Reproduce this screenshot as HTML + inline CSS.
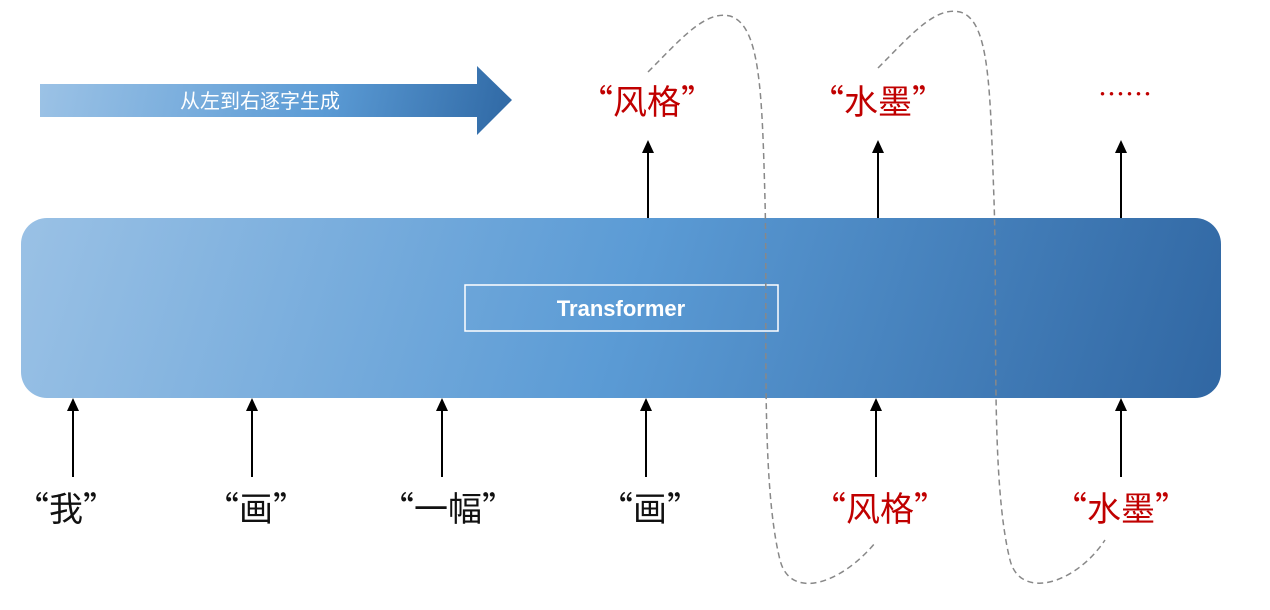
<!DOCTYPE html>
<html><head><meta charset="utf-8"><style>
html,body{margin:0;padding:0;background:#fff;}
svg{display:block;}
text{font-family:"Liberation Sans","Noto Sans CJK SC",sans-serif;}
.cjk{font-family:"Noto Sans CJK SC",sans-serif;}
</style></head><body>
<svg width="1270" height="610" viewBox="0 0 1270 610" xmlns="http://www.w3.org/2000/svg">
<defs>
<linearGradient id="g1" gradientUnits="userSpaceOnUse" x1="21" y1="120" x2="1221" y2="500">
<stop offset="0" stop-color="#9dc3e6"/><stop offset="0.5" stop-color="#5b9bd5"/><stop offset="1" stop-color="#2e64a0"/>
</linearGradient>
<linearGradient id="g2" gradientUnits="userSpaceOnUse" x1="40" y1="50" x2="512" y2="150">
<stop offset="0" stop-color="#9dc3e6"/><stop offset="0.6" stop-color="#5b9bd5"/><stop offset="1" stop-color="#2e67a3"/>
</linearGradient>
</defs>
<path d="M40,84 L477,84 L477,66 L512,100 L477,135 L477,117 L40,117 Z" fill="url(#g2)"/>
<text x="260" y="108" font-size="20" fill="#fff" text-anchor="middle">从左到右逐字生成</text>
<rect x="21" y="218" width="1200" height="180" rx="26" fill="url(#g1)"/>
<rect x="465" y="285" width="313" height="46" fill="none" stroke="#fff" stroke-width="1.5"/>
<text x="621" y="316" font-size="22" font-weight="bold" fill="#fff" text-anchor="middle">Transformer</text>
<g stroke="#000" stroke-width="2">
<line x1="648" y1="218" x2="648" y2="150"/>
<line x1="878" y1="218" x2="878" y2="150"/>
<line x1="1121" y1="218" x2="1121" y2="150"/>
<line x1="73" y1="477" x2="73" y2="408"/>
<line x1="252" y1="477" x2="252" y2="408"/>
<line x1="442" y1="477" x2="442" y2="408"/>
<line x1="646" y1="477" x2="646" y2="408"/>
<line x1="876" y1="477" x2="876" y2="408"/>
<line x1="1121" y1="477" x2="1121" y2="408"/>
</g>
<g fill="#000">
<path d="M642,153 L648,140 L654,153 Z"/>
<path d="M872,153 L878,140 L884,153 Z"/>
<path d="M1115,153 L1121,140 L1127,153 Z"/>
<path d="M67,411 L73,398 L79,411 Z"/>
<path d="M246,411 L252,398 L258,411 Z"/>
<path d="M436,411 L442,398 L448,411 Z"/>
<path d="M640,411 L646,398 L652,411 Z"/>
<path d="M870,411 L876,398 L882,411 Z"/>
<path d="M1115,411 L1121,398 L1127,411 Z"/>
</g>
<g stroke="#888" stroke-width="1.5" fill="none" stroke-dasharray="6,4">
<path d="M648,72 C680,40 705,10 730,16 C760,25 762,90 765,200 C768,320 760,480 780,560 C790,600 840,585 875,543"/>
<path d="M878,68 C910,36 935,6 960,12 C990,20 990,90 994,200 C998,320 990,480 1010,560 C1020,600 1075,585 1105,540"/>
</g>
<g font-size="34" text-anchor="middle" fill="#c00000" class="cjk">
<text x="647" y="114" class="cjk">“风格”</text>
<text x="878" y="114" class="cjk">“水墨”</text>
<text x="1125" y="104" font-size="27" class="cjk">……</text>
<text x="880" y="521" class="cjk">“风格”</text>
<text x="1121" y="521" class="cjk">“水墨”</text>
</g>
<g font-size="34" text-anchor="middle" fill="#111">
<text x="66" y="521" class="cjk">“我”</text>
<text x="256" y="521" class="cjk">“画”</text>
<text x="448" y="521" class="cjk">“一幅”</text>
<text x="650" y="521" class="cjk">“画”</text>
</g>
</svg>
</body></html>
